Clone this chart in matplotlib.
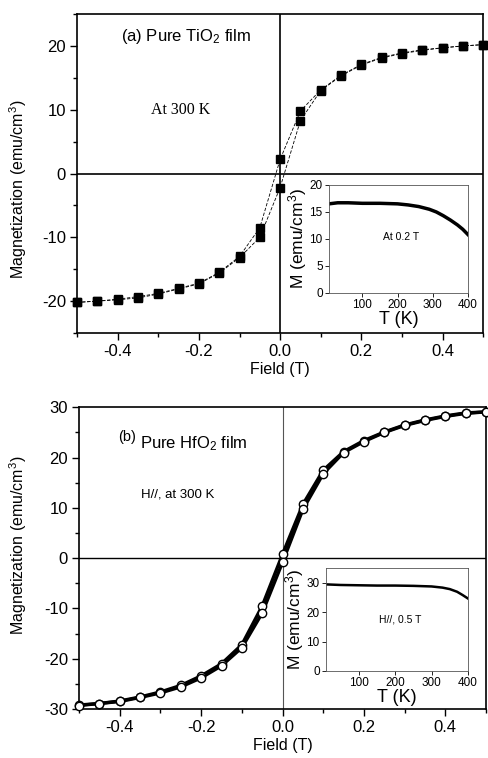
import numpy as np
import matplotlib.pyplot as plt
from matplotlib.ticker import MultipleLocator

plt.rcParams['font.family'] = ['Liberation Sans', 'DejaVu Sans']
plt.rcParams['mathtext.default'] = 'regular'
plt.rcParams['axes.unicode_minus'] = False

# ----------------------------
# Data
# ----------------------------
field = [-0.5, -0.45, -0.4, -0.35, -0.3, -0.25, -0.2, -0.15, -0.1, -0.05, 0.0,
         0.05, 0.1, 0.15, 0.2, 0.25, 0.3, 0.35, 0.4, 0.45, 0.5]

tio2_down = [-20.2, -20.0, -19.7, -19.3, -18.8, -18.0, -17.2, -15.5, -13.0, -8.5, 2.2,
             9.8, 13.1, 15.4, 17.1, 18.2, 18.9, 19.4, 19.7, 20.0, 20.2]
tio2_up = [-20.2, -20.0, -19.8, -19.5, -18.9, -18.1, -17.3, -15.6, -13.2, -10.0, -2.2,
           8.3, 13.0, 15.3, 17.0, 18.1, 18.8, 19.3, 19.7, 20.0, 20.2]

hfo2_down = [-29.2, -28.9, -28.4, -27.6, -26.6, -25.3, -23.4, -21.0, -17.2, -9.5, 0.8,
             10.7, 17.5, 21.2, 23.4, 25.1, 26.5, 27.5, 28.3, 28.9, 29.1]
hfo2_up = [-29.3, -28.9, -28.5, -27.7, -26.8, -25.6, -23.8, -21.4, -17.8, -10.9, -0.8,
           9.7, 16.8, 21.0, 23.2, 25.0, 26.4, 27.4, 28.2, 28.8, 29.1]

# M(T) insets
temp_a = [5, 30, 60, 100, 150, 200, 230, 260, 290, 310, 330, 350, 370, 385, 400]
mt_a = [16.5, 16.7, 16.7, 16.6, 16.6, 16.5, 16.3, 16.0, 15.5, 15.0, 14.3, 13.5, 12.6, 11.8, 10.8]

temp_b = [10, 50, 100, 150, 200, 250, 300, 330, 350, 370, 385, 400]
mt_b = [29.4, 29.2, 29.1, 29.0, 29.0, 28.9, 28.7, 28.3, 27.8, 26.9, 25.8, 24.6]


def style_main(ax, ylabel_x, ylabel_y):
    ax.tick_params(which='both', direction='out', labelsize=12, top=False, right=False,
                   width=1.0, pad=3)
    ax.tick_params(which='major', length=5)
    ax.tick_params(which='minor', length=3)
    for s in ax.spines.values():
        s.set_linewidth(1.2)
    ax.xaxis.set_minor_locator(MultipleLocator(0.1))
    ax.set_xlim(-0.5, 0.5)
    ax.set_xticks([-0.4, -0.2, 0.0, 0.2, 0.4])
    ax.set_xticklabels(['-0.4', '-0.2', '0.0', '0.2', '0.4'])
    ax.set_xlabel('Field (T)', fontsize=11.5, labelpad=2)
    ax.set_ylabel('Magnetization (emu/cm$^3$)', fontsize=11.5)
    ax.yaxis.set_label_coords(ylabel_x, ylabel_y)


def style_inset(ax):
    ax.tick_params(which='both', direction='out', labelsize=8.5, top=False, right=False,
                   pad=1.5, width=0.6)
    ax.tick_params(which='major', length=3)
    ax.tick_params(which='minor', length=1.5)
    for s in ax.spines.values():
        s.set_linewidth(0.6)
        s.set_color('#555555')
    ax.set_xticks([100, 200, 300, 400])
    ax.set_xlabel('T (K)', fontsize=13, labelpad=0)
    ax.set_ylabel('M (emu/cm$^3$)', fontsize=12.5, labelpad=0)


fig = plt.figure(figsize=(4.88, 7.58), dpi=100)

# ----------------------------
# (a) TiO2
# ----------------------------
ax1 = fig.add_axes([0.158, 0.5607, 0.832, 0.4208])
ax1.axhline(0, color='black', lw=1.2, zorder=1)
ax1.axvline(0, color='black', lw=1.2, zorder=1)
for branch in (tio2_down, tio2_up):
    ax1.plot(field, branch, color='black', lw=0.6, ls=(0, (4, 2)), marker='s',
             markersize=5.5, mfc='black', mec='black', zorder=3, clip_on=False)
ax1.set_ylim(-25, 25)
ax1.yaxis.set_major_locator(MultipleLocator(10))
ax1.yaxis.set_minor_locator(MultipleLocator(5))
style_main(ax1, -0.118, 0.45)
ax1.text(-0.392, 21.5, '(a) Pure TiO$_2$ film', fontsize=12, va='center', ha='left')
ax1.text(-0.245, 10, 'At 300 K', fontsize=11.5, va='center', ha='center',
         family='Liberation Serif')

ins1 = fig.add_axes([0.674, 0.6135, 0.285, 0.1425])
ins1.plot(temp_a, mt_a, color='black', lw=2.5)
ins1.set_xlim(5, 400)
ins1.set_ylim(0, 20)
ins1.yaxis.set_major_locator(MultipleLocator(5))
style_inset(ins1)
ins1.text(0.52, 0.52, 'At 0.2 T', transform=ins1.transAxes, fontsize=7.5,
          ha='center', va='center')

# ----------------------------
# (b) HfO2
# ----------------------------
ax2 = fig.add_axes([0.162, 0.0646, 0.834, 0.398])
ax2.axhline(0, color='black', lw=1.0, zorder=1)
ax2.axvline(0, color='#555555', lw=0.8, zorder=1)
for branch in (hfo2_down, hfo2_up):
    ax2.plot(field, branch, color='black', lw=2.4, zorder=2, clip_on=False)
for branch in (hfo2_down, hfo2_up):
    ax2.plot(field, branch, ls='none', marker='o', markersize=6,
             mfc='white', mec='black', mew=1.0, zorder=3, clip_on=False)
ax2.set_ylim(-30, 30)
ax2.yaxis.set_major_locator(MultipleLocator(10))
ax2.yaxis.set_minor_locator(MultipleLocator(5))
style_main(ax2, -0.123, 0.543)
ax2.text(-0.404, 22.7, '(b)', fontsize=10.5, va='bottom', ha='left')
ax2.text(-0.35, 22.7, 'Pure HfO$_2$ film', fontsize=12, va='center', ha='left')
ax2.text(-0.257, 12.6, 'H//, at 300 K', fontsize=9.5, va='center', ha='center')

ins2 = fig.add_axes([0.668, 0.1148, 0.291, 0.136])
ins2.plot(temp_b, mt_b, color='black', lw=1.8)
ins2.set_xlim(10, 400)
ins2.set_ylim(0, 35)
ins2.set_yticks([0, 10, 20, 30])
style_inset(ins2)
ins2.text(0.52, 0.5, 'H//, 0.5 T', transform=ins2.transAxes, fontsize=7.5,
          ha='center', va='center')

fig.savefig('out.png', dpi=100)
plt.close(fig)
